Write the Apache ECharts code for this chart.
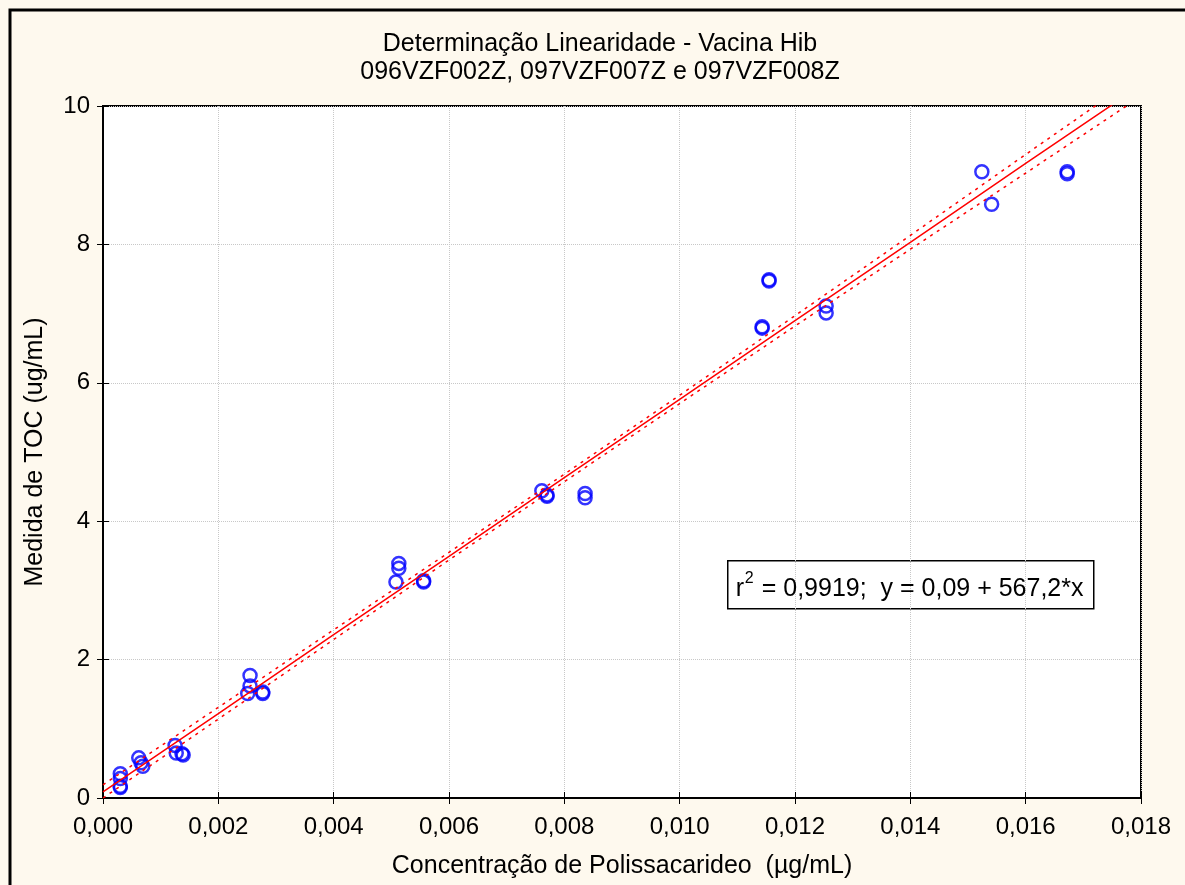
<!DOCTYPE html>
<html lang="pt">

<head>
    <meta charset="UTF-8">
    <title>Determinação Linearidade - Vacina Hib</title>
    <style>
        html, body { margin: 0; padding: 0; background: #fef9ee; }
    </style>
</head>

<body>
    <div id="main" style="width: 1185px;height:885px;"></div>
    <script src="https://cdn.jsdelivr.net/npm/echarts@6/dist/echarts.min.js"></script>
    <script>
        // pontos medidos (concentração x TOC)
        var concX = [0.0003, 0.0003, 0.0003, 0.0003,
            0.00062, 0.00066, 0.00069,
            0.00125, 0.00127, 0.00139, 0.00137,
            0.00255, 0.00255, 0.00251, 0.00277, 0.00277,
            0.00513, 0.00513, 0.00508, 0.00556, 0.00556,
            0.00761, 0.0077, 0.0077, 0.00836, 0.00836,
            0.01143, 0.01143, 0.01155, 0.01155, 0.01254, 0.01254,
            0.01524, 0.01541, 0.01672, 0.01672];
        var tocY = [0.35, 0.28, 0.17, 0.15,
            0.58, 0.51, 0.46,
            0.76, 0.65, 0.62, 0.64,
            1.77, 1.62, 1.51, 1.51, 1.53,
            3.39, 3.32, 3.12, 3.12, 3.14,
            4.44, 4.36, 4.38, 4.40, 4.34,
            6.81, 6.79, 7.47, 7.49, 7.11, 7.01,
            9.05, 8.58, 9.05, 9.02];

        // reta ajustada e faixas de confiança
        var fitX = [0, 0.002, 0.004, 0.006, 0.008, 0.010, 0.012, 0.014, 0.016, 0.018];
        var fitY = [0.09, 1.22, 2.36, 3.49, 4.63, 5.76, 6.90, 8.03, 9.17, 10.30];
        var upperY = [0.19, 1.31, 2.43, 3.55, 4.68, 5.82, 6.97, 8.13, 9.30, 10.46];
        var lowerY = [0.00, 1.14, 2.29, 3.44, 4.57, 5.70, 6.82, 7.93, 9.03, 10.14];

        var xTicks = ['0,000', '0,002', '0,004', '0,006', '0,008', '0,010', '0,012', '0,014', '0,016', '0,018'];

        function pairs(xs, ys) {
            return xs.map(function (x, i) { return [x, ys[i]]; });
        }

        var myChart = echarts.init(document.getElementById('main'));
        var font = 'Liberation Sans, Arial, sans-serif';

        option = {
            backgroundColor: '#fef9ee',
            animation: false,
            textStyle: { fontFamily: font, color: '#000' },
            title: {
                text: 'Determinação Linearidade - Vacina Hib\n096VZF002Z, 097VZF007Z e 097VZF008Z',
                left: 595,
                textAlign: 'center',
                top: 25,
                textStyle: { fontFamily: font, fontSize: 25, fontWeight: 'normal', color: '#000', lineHeight: 28 }
            },
            grid: {
                left: 103, top: 106, right: 44, bottom: 87,
                show: true, backgroundColor: '#fff', borderColor: '#000', borderWidth: 2
            },
            xAxis: [{
                type: 'value', min: 0, max: 0.018, interval: 0.002,
                name: 'Concentração de Polissacarideo  (µg/mL)',
                nameLocation: 'middle', nameGap: 56,
                nameTextStyle: { fontSize: 25, color: '#000' },
                axisLine: { show: true, lineStyle: { color: '#000', width: 2 } },
                axisTick: { inside: true, length: 6, lineStyle: { color: '#000' } },
                axisLabel: {
                    fontSize: 24, color: '#000', margin: 17,
                    formatter: function (v) { return xTicks[Math.round(v / 0.002)]; }
                },
                splitLine: { show: true, lineStyle: { color: '#c8c8c8', type: 'dotted' } }
            }, {
                type: 'value', min: 0, max: 0.018, interval: 0.002, position: 'top',
                axisLine: { show: true, lineStyle: { color: '#000', width: 2 } },
                axisTick: { inside: true, length: 6, lineStyle: { color: '#000' } },
                axisLabel: { show: false }, splitLine: { show: false }
            }],
            yAxis: [{
                type: 'value', min: 0, max: 10, interval: 2,
                name: 'Medida de TOC (ug/mL)',
                nameLocation: 'middle', nameGap: 55,
                nameTextStyle: { fontSize: 25, color: '#000' },
                axisLine: { show: true, lineStyle: { color: '#000', width: 2 } },
                axisTick: { inside: true, length: 6, lineStyle: { color: '#000' } },
                axisLabel: { fontSize: 24, color: '#000', margin: 13 },
                splitLine: { show: true, lineStyle: { color: '#c8c8c8', type: 'dotted' } }
            }, {
                type: 'value', min: 0, max: 10, interval: 2, position: 'right',
                axisLine: { show: true, lineStyle: { color: '#000', width: 2 } },
                axisTick: { inside: true, length: 6, lineStyle: { color: '#000' } },
                axisLabel: { show: false }, splitLine: { show: false }
            }],
            series: [{
                type: 'line', data: pairs(fitX, upperY), symbol: 'none', clip: true,
                lineStyle: { color: '#ff0000', width: 1.5, type: [3, 5] }
            }, {
                type: 'line', data: pairs(fitX, lowerY), symbol: 'none', clip: true,
                lineStyle: { color: '#ff0000', width: 1.5, type: [3, 5] }
            }, {
                type: 'line', data: pairs(fitX, fitY), symbol: 'none', clip: true,
                lineStyle: { color: '#ff0000', width: 1.5 }
            }, {
                type: 'scatter', data: pairs(concX, tocY),
                symbol: 'circle', symbolSize: 13,
                itemStyle: { color: 'rgba(0,0,0,0)', borderColor: '#0000ff', borderWidth: 2.5 }
            }],
            graphic: [{
                type: 'rect', silent: true, z: 0,
                shape: { x: 10, y: 10, width: 1300, height: 1000 },
                style: { fill: 'none', stroke: '#000', lineWidth: 3 }
            }, {
                type: 'group', left: 727, top: 560, z: 100,
                children: [{
                    type: 'rect',
                    shape: { x: 0, y: 0, width: 366, height: 48 },
                    style: { fill: '#fff', stroke: '#000', lineWidth: 1.5 }
                }, {
                    type: 'text', x: 8, y: 28, z: 101,
                    style: { text: 'r', font: '25px ' + font, fill: '#000', verticalAlign: 'middle' }
                }, {
                    type: 'text', x: 17, y: 18, z: 101,
                    style: { text: '2', font: '16px ' + font, fill: '#000', verticalAlign: 'middle' }
                }, {
                    type: 'text', x: 27, y: 28, z: 101,
                    style: { text: ' = 0,9919;  y = 0,09 + 567,2*x', font: '25px ' + font, fill: '#000', verticalAlign: 'middle' }
                }]
            }]
        };
        myChart.setOption(option);
    </script>
</body>

</html>
